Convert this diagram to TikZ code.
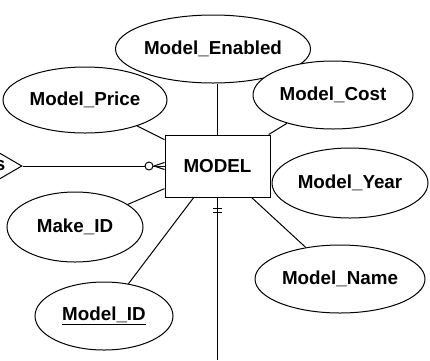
\documentclass[tikz,border=0pt]{standalone}
\usepackage{fontspec}
\setmainfont{Liberation Sans}
\usetikzlibrary{shapes.geometric}
\tikzset{
  attr/.style={draw, ellipse, inner sep=0pt, fill=white},
  entity/.style={draw, rectangle, inner sep=0pt, fill=white},
  lbl/.style={font=\fontsize{18.8}{22}\selectfont\bfseries},
  link/.style={draw, line width=1pt},
}
\begin{document}
\begin{tikzpicture}[x=1pt, y=-1pt, line width=1pt]
\useasboundingbox (0,0) rectangle (430,360);
\clip (0,0) rectangle (430,360);

% entity
\node[entity, lbl, minimum width=105pt, minimum height=62pt] (model) at (217.5,166) {MODEL};

% attributes
\node[attr, lbl, minimum width=190pt, minimum height=68pt] (enabled) at (213,49) {Model\_Enabled};
\node[attr, lbl, minimum width=164pt, minimum height=66pt] (price) at (85,100) {Model\_Price};
\node[attr, lbl, minimum width=160pt, minimum height=68pt] (cost) at (333,95) {Model\_Cost};
\node[attr, lbl, minimum width=156pt, minimum height=70pt] (year) at (350,183) {Model\_Year};
\node[attr, lbl, minimum width=136pt, minimum height=70pt] (make) at (75,227) {Make\_ID};
\node[attr, lbl, minimum width=138pt, minimum height=68pt] (mid) at (104,316) {\underline{Model\_ID}};
\node[attr, lbl, minimum width=170pt, minimum height=68pt] (mname) at (340,279) {Model\_Name};

% relationship diamond, mostly beyond the left edge
\coordinate (reltip) at (22,166);
\node[draw, diamond, minimum width=134pt, minimum height=78pt, inner sep=0pt] (rel) at (-45,166) {};
\node[lbl, inner sep=0pt] (rellbl) at (0,166) {s};

% attribute links
\draw (price) -- (model);
\draw (cost) -- (model);
\draw (make) -- (model);
\draw (mid) -- (model);
\draw (mname) -- (model);
\draw (model.north) -- (model.north |- enabled.south);

% link downwards with mandatory-one marks
\coordinate (down) at (217.5,360);
\draw (model.south) -- (down);
\draw ([yshift=-11pt]model.south) ++(-4.5,0) -- ++(9,0);
\draw ([yshift=-15pt]model.south) ++(-4.5,0) -- ++(9,0);

% zero-or-many link to the relationship
\coordinate (ring) at (149,166);
\draw (rel.east) -- ([xshift=-4pt]ring);
\draw (ring) circle (4pt);
\coordinate (foot) at (154,166);
\draw ([xshift=4pt]ring) -- (model.west);
\draw (foot) -- ([yshift=-3.5pt]model.west);
\draw (foot) -- ([yshift=3.5pt]model.west);
\end{tikzpicture}
\end{document}
